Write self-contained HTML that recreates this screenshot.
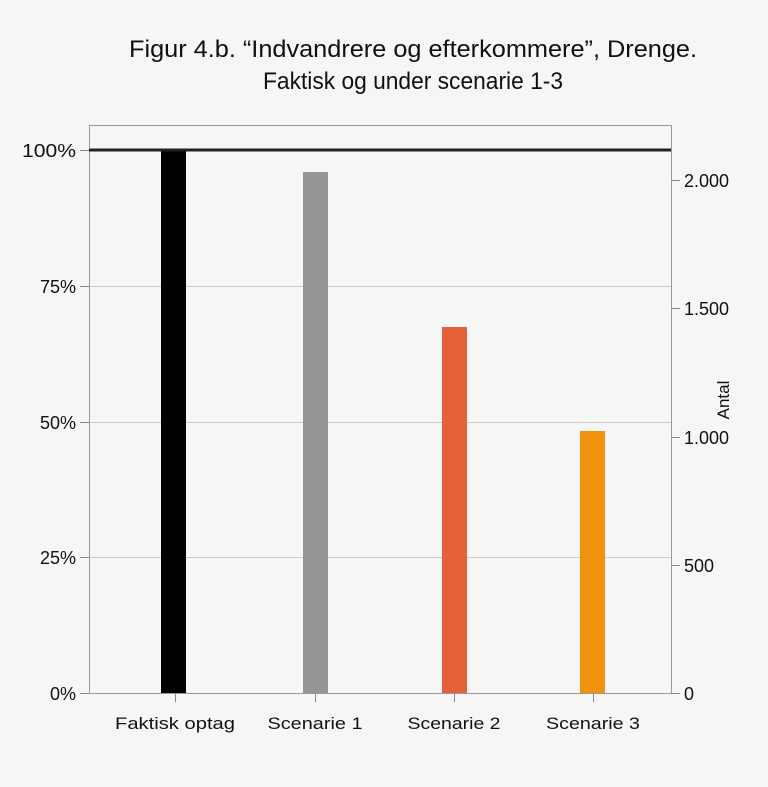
<!DOCTYPE html>
<html><head><style>body{margin:0;background:#f6f6f6}svg{display:block}</style></head><body>
<svg width="768" height="787" xmlns="http://www.w3.org/2000/svg" font-family="Liberation Sans, sans-serif" fill="#111">
<rect width="768" height="787" fill="#f6f6f6"/>
<text x="413" y="57" font-size="24" text-anchor="middle" textLength="568" lengthAdjust="spacingAndGlyphs">Figur 4.b. “Indvandrere og efterkommere”, Drenge.</text>
<text x="413" y="89" font-size="24" text-anchor="middle" textLength="300" lengthAdjust="spacingAndGlyphs">Faktisk og under scenarie 1-3</text>
<g stroke="#ccc" stroke-width="1">
<line x1="89" x2="671" y1="286.5" y2="286.5"/>
<line x1="89" x2="671" y1="422.5" y2="422.5"/>
<line x1="89" x2="671" y1="557.5" y2="557.5"/>
</g>
<rect x="89.5" y="125.5" width="582" height="568" fill="none" stroke="#999"/>
<g stroke="#888">
<line x1="80" x2="89" y1="150.5" y2="150.5"/>
<line x1="80" x2="89" y1="286.5" y2="286.5"/>
<line x1="80" x2="89" y1="422.5" y2="422.5"/>
<line x1="80" x2="89" y1="557.5" y2="557.5"/>
<line x1="80" x2="89" y1="693.5" y2="693.5"/>
<line x1="671" x2="680" y1="180.5" y2="180.5"/>
<line x1="671" x2="680" y1="308.5" y2="308.5"/>
<line x1="671" x2="680" y1="437.5" y2="437.5"/>
<line x1="671" x2="680" y1="565.5" y2="565.5"/>
<line x1="671" x2="680" y1="693.5" y2="693.5"/>
<line x1="175.5" x2="175.5" y1="693" y2="702"/>
<line x1="315.5" x2="315.5" y1="693" y2="702"/>
<line x1="454.5" x2="454.5" y1="693" y2="702"/>
<line x1="593.5" x2="593.5" y1="693" y2="702"/>
</g>
<rect x="161" y="150" width="25" height="543" fill="#000"/>
<rect x="303" y="172" width="25" height="521" fill="#959597"/>
<rect x="442" y="327" width="25" height="366" fill="#e4613a"/>
<rect x="580" y="431" width="25" height="262" fill="#f2930f"/>
<line x1="89" x2="671" y1="150" y2="150" stroke="#222" stroke-width="3"/>
<g font-size="18" text-anchor="end">
<text x="76" y="157" textLength="54" lengthAdjust="spacingAndGlyphs">100%</text>
<text x="76" y="293">75%</text>
<text x="76" y="429">50%</text>
<text x="76" y="564">25%</text>
<text x="76" y="700">0%</text>
</g>
<g font-size="18">
<text x="684" y="187">2.000</text>
<text x="684" y="315">1.500</text>
<text x="684" y="444">1.000</text>
<text x="684" y="572">500</text>
<text x="684" y="700">0</text>
</g>
<text transform="translate(729,400) rotate(-90)" font-size="17" text-anchor="middle">Antal</text>
<g font-size="17" text-anchor="middle">
<text x="175" y="729" textLength="120" lengthAdjust="spacingAndGlyphs">Faktisk optag</text>
<text x="315" y="729" textLength="95" lengthAdjust="spacingAndGlyphs">Scenarie 1</text>
<text x="454" y="729" textLength="93" lengthAdjust="spacingAndGlyphs">Scenarie 2</text>
<text x="593" y="729" textLength="94" lengthAdjust="spacingAndGlyphs">Scenarie 3</text>
</g>
</svg>
</body></html>
